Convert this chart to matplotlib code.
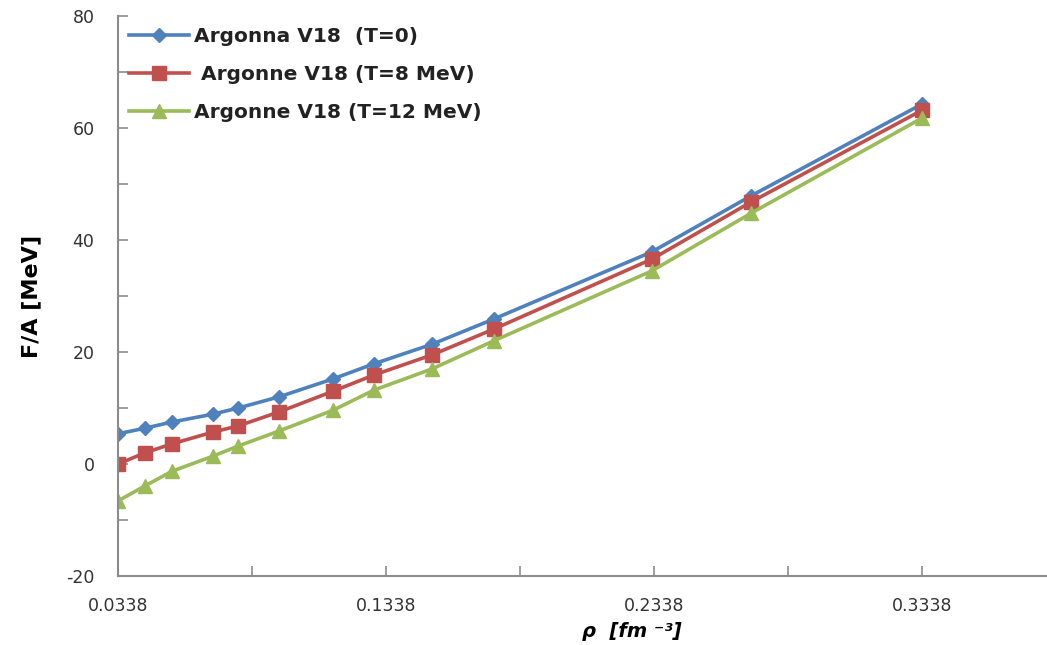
import numpy as np
import matplotlib
matplotlib.use("Agg")
import matplotlib.pyplot as plt
from matplotlib.ticker import MultipleLocator, FixedLocator

plt.rcParams["axes.unicode_minus"] = False

# density values (fm^-3)
rho = [0.0338, 0.0439, 0.0539, 0.0692, 0.0786, 0.0939, 0.1140,
       0.1293, 0.1510, 0.1740, 0.2330, 0.2700, 0.3338]

# free energy per nucleon (MeV)
fa_t0 = [5.4, 6.4, 7.5, 8.9, 10.0, 12.0, 15.2, 17.9, 21.4, 25.9, 37.9, 47.9, 64.3]
fa_t8 = [0.0, 2.0, 3.6, 5.7, 6.8, 9.3, 13.0, 15.9, 19.5, 24.1, 36.6, 46.8, 63.2]
fa_t12 = [-6.6, -3.9, -1.3, 1.4, 3.2, 5.9, 9.6, 13.2, 17.0, 22.0, 34.5, 44.8, 61.8]

labels = ["Argonna V18  (T=0)", " Argonne V18 (T=8 MeV)", "Argonne V18 (T=12 MeV)"]
xticks = [0.0338, 0.1338, 0.2338, 0.3338]

fig = plt.figure(figsize=(10.47, 6.45), dpi=100)
ax = fig.add_axes([0.1127, 0.107, 0.8873, 0.868])

ax.plot(rho, fa_t0, color="#4F81BD", lw=2.6, marker="D", ms=7, label=labels[0])
ax.plot(rho, fa_t8, color="#C0504D", lw=2.6, marker="s", ms=10, label=labels[1])
ax.plot(rho, fa_t12, color="#9BBB59", lw=2.6, marker="^", ms=10, label=labels[2])

ax.set_xlim(0.0338, 0.3804)
ax.set_ylim(-20, 80)
ax.xaxis.set_major_locator(FixedLocator(xticks))
ax.xaxis.set_minor_locator(MultipleLocator(0.05, offset=0.0338))
ax.yaxis.set_major_locator(MultipleLocator(20))
ax.yaxis.set_minor_locator(MultipleLocator(10))
ax.set_xticklabels(["%.4f" % v for v in xticks])

for s in ["top", "right"]:
    ax.spines[s].set_visible(False)
for s in ["left", "bottom"]:
    ax.spines[s].set_color("#8c8c8c")
    ax.spines[s].set_linewidth(1.5)

ax.tick_params(which="both", direction="in", length=7, width=1.2, color="#8c8c8c",
               labelsize=12.5, labelcolor="#333333")
ax.tick_params(axis="x", which="both", pad=15)
ax.tick_params(axis="y", which="both", pad=17)

ax.set_ylabel("F/A [MeV]", fontsize=16, fontweight="bold")
ax.yaxis.set_label_coords(-0.083, 0.5)
ax.set_xlabel("ρ  [fm ⁻³]", fontsize=14, fontweight="bold", style="italic")
ax.xaxis.set_label_coords(0.553, -0.083)

leg = ax.legend(loc="upper left", bbox_to_anchor=(0.0, 1.0), frameon=False,
                prop={"size": 14.5, "weight": "bold"}, handlelength=3.0,
                handletextpad=0.2, labelspacing=0.95, borderaxespad=0.15)
for t in leg.get_texts():
    t.set_color("#222222")

fig.savefig("out.png", dpi=100)
